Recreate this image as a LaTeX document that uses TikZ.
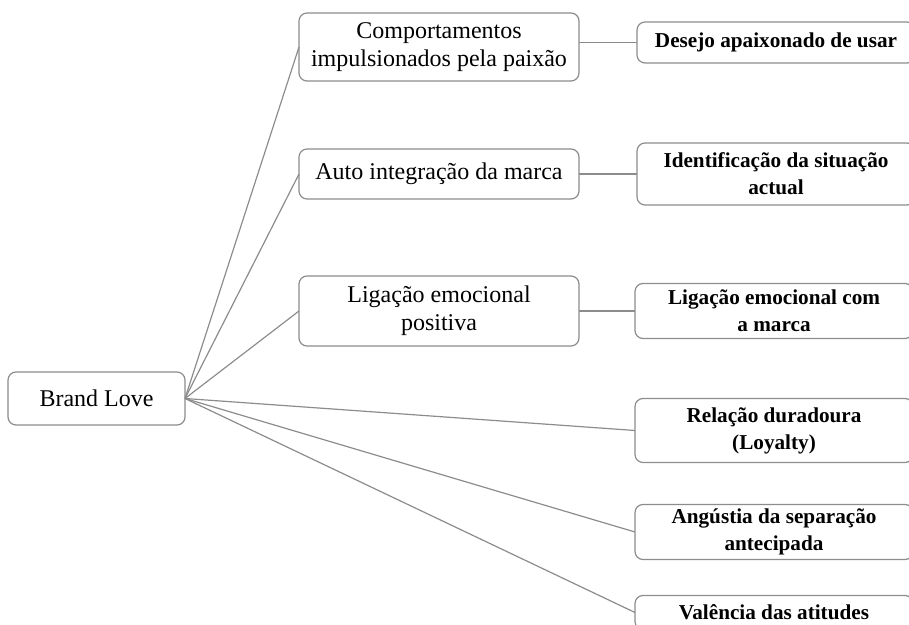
\documentclass[tikz,border=0pt]{standalone}
\usepackage{fontspec}
\setmainfont{Liberation Serif}
\usetikzlibrary{positioning}
\definecolor{boxgray}{RGB}{140,140,140}

\begin{document}
\begin{tikzpicture}[
		x=0.5pt, y=-0.5pt,
		every node/.style = {
			draw=boxgray, rectangle, rounded corners=4pt,
			align=center, line width=0.6pt,
			outer sep=0pt, inner sep=0pt
		},
		midbox/.style = {minimum width=140pt, font=\fontsize{12}{14}\selectfont},
		sidebox/.style = {minimum width=139pt, font=\fontsize{10.6}{13.5}\selectfont\bfseries},
		link/.style = {draw=boxgray, line width=0.6pt}
		]
		\clip (0,0) rectangle (909,625);
		\node [minimum width=88.5pt, minimum height=26.5pt,
			font=\fontsize{12}{14}\selectfont] (love) at (96.5,398.5) {Brand Love};
		\node [midbox, minimum height=34pt] (c1) at (439,47) {Comportamentos\\impulsionados pela paixão};
		\node [midbox, minimum height=25pt, below=34pt of c1] (c2) {Auto integração da marca};
		\node [midbox, minimum height=35pt, below=38.5pt of c2] (c3) {Ligação emocional\\positiva};
		\node [sidebox, minimum height=20.5pt, right=29pt of c1, yshift=2.25pt] (r1) {Desejo apaixonado de usar};
		\node [sidebox, minimum height=31pt, right=29pt of c2] (r2) {Identificação da situação\\actual};
		\node [sidebox, minimum height=27.5pt, right=28pt of c3] (r3) {Ligação emocional com\\a marca};
		\node [sidebox, minimum height=32pt, below=30pt of r3] (r4) {Relação duradoura\\(Loyalty)};
		\node [sidebox, minimum height=27.5pt, below=21pt of r4] (r5) {Angústia da separação\\antecipada};
		\node [sidebox, minimum height=17pt, below=18pt of r5] (r6) {Valência das atitudes};
		\draw[link] (love.east) -- (c1.west);
		\draw[link] (love.east) -- (c2.west);
		\draw[link] (love.east) -- (c3.west);
		\draw[link] (love.east) -- (r4.west);
		\draw[link] (love.east) -- (r5.west);
		\draw[link] (love.east) -- (r6.west);
		\draw[link] (r1.west -| c1.east) -- (r1.west);
		\draw[link] (c2.east) -- (r2.west);
		\draw[link] (c3.east) -- (r3.west);
	\end{tikzpicture}
\end{document}
